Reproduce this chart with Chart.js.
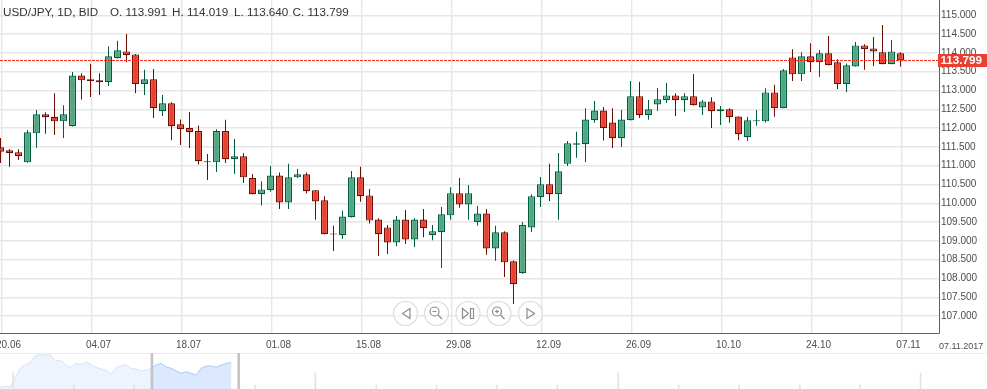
<!DOCTYPE html>
<html>
<head>
<meta charset="utf-8">
<title>USD/JPY</title>
<script src="https://cdn.jsdelivr.net/npm/chart.js@4/dist/chart.umd.js"></script>
<style>
    html, body { margin: 0; padding: 0; background: #fff; overflow: hidden; }
    #page { position: relative; width: 987px; height: 389px; font-family: "Liberation Sans", Arial, sans-serif; }
    canvas { position: absolute; left: 0; display: block; }
    #header { position: absolute; left: 0; top: 4px; height: 16px; font-size: 11.7px; line-height: 16px; color: #333; white-space: nowrap; }
    #header span { position: absolute; top: 0; }
    #dateNow { position: absolute; left: 939px; top: 340px; font-size: 9px; line-height: 12px; color: #4d4d4d; }
    #navLine { position: absolute; left: 0; top: 353px; width: 987px; height: 1px; background: #ececec; }
    #buttons { position: absolute; left: 0; top: 0; }
</style>
</head>
<body>
<div id="page">
    <canvas id="priceChart" width="987" height="389" style="top:0"></canvas>
    <div id="navLine"></div>
    <canvas id="navChart" width="987" height="36" style="top:353px"></canvas>
    <div id="header">
        <span style="left:3px">USD/JPY, 1D, BID</span>
        <span style="left:110px">O. 113.991</span>
        <span style="left:172px">H. 114.019</span>
        <span style="left:234px">L. 113.640</span>
        <span style="left:292.5px">C. 113.799</span>
    </div>
    <div id="dateNow">07.11.2017</div>
    <svg id="buttons" width="987" height="389" fill="none" stroke="#8c8c8c" stroke-width="1.2">
        <g stroke="#dcdcdc" fill="rgba(255,255,255,0.55)">
            <circle cx="405.5" cy="313.5" r="12"/><circle cx="436.5" cy="313.5" r="12"/>
            <circle cx="468" cy="313.5" r="12"/><circle cx="499" cy="313.5" r="12"/><circle cx="530.5" cy="313.5" r="12"/>
        </g>
        <path d="M410 308.5v10l-7.500-5z"/>
        <circle cx="434.500" cy="311.500" r="4.500"/><path d="M432.500 311.500h4M438 315l4 4"/>
        <path d="M462.500 308.500v10l6-5zM470.500 308.500h3v10h-3z"/>
        <circle cx="497" cy="311.500" r="4.500"/><path d="M495 311.500h4M497 309.500v4M500.500 315l4 4"/>
        <path d="M527 308.500v10l7.500-5z"/>
    </svg>
</div>

<script>
    const opens = [
        111.49, 111.41, 111.36, 111.09, 111.86, 112.37, 112.30, 112.18, 112.05, 113.40,
        113.30, 113.27, 113.22, 113.86, 114.04, 113.96, 113.17, 113.30, 112.45, 112.66,
        112.10, 112.00, 111.92, 111.12, 111.09, 111.92, 111.17, 111.25, 110.67, 110.24,
        110.35, 110.74, 110.02, 110.69, 110.77, 110.35, 110.08, 109.20, 109.15, 109.63,
        110.69, 110.21, 109.57, 109.36, 108.96, 109.57, 109.04, 109.57, 109.15, 109.23,
        109.68, 110.27, 109.97, 109.50, 109.73, 108.80, 109.23, 108.46, 108.14, 109.36,
        110.16, 110.51, 110.24, 111.05, 111.56, 111.57, 112.21, 112.47, 112.15, 111.73,
        112.21, 112.85, 112.34, 112.63, 112.74, 112.87, 112.74, 112.85, 112.55, 112.71,
        112.45, 112.50, 112.31, 111.76, 112.18, 112.18, 112.95, 112.53, 113.88, 113.43,
        113.91, 113.75, 113.99, 113.75, 113.17, 113.64, 114.20, 114.12, 114.02, 113.70,
        113.991
    ];
    const highs = [
        111.74, 111.44, 111.44, 111.95, 112.48, 112.42, 112.93, 112.61, 113.49, 113.46,
        113.71, 113.46, 114.18, 114.32, 114.50, 113.97, 113.55, 113.57, 112.88, 112.69,
        112.23, 112.43, 112.07, 111.31, 111.97, 112.22, 111.71, 111.33, 110.78, 110.59,
        110.99, 110.82, 111.05, 110.91, 110.82, 110.35, 110.19, 109.40, 109.80, 110.86,
        110.97, 110.38, 109.60, 109.42, 109.66, 109.82, 109.60, 109.85, 109.42, 109.90,
        110.43, 110.67, 110.49, 109.93, 109.85, 109.40, 109.26, 108.48, 109.50, 110.24,
        110.70, 111.05, 111.34, 111.66, 111.90, 112.53, 112.72, 112.56, 112.53, 112.48,
        113.25, 113.23, 112.75, 113.07, 113.20, 112.93, 112.93, 113.44, 112.75, 112.82,
        112.59, 112.53, 112.31, 112.30, 112.48, 113.06, 113.15, 113.57, 114.10, 114.02,
        114.26, 114.08, 114.45, 113.83, 113.72, 114.29, 114.23, 114.42, 114.74, 114.34,
        114.019
    ];
    const lows = [
        111.07, 110.97, 111.15, 111.08, 111.48, 111.85, 111.82, 111.74, 112.04, 112.76,
        112.83, 112.88, 113.12, 113.85, 113.75, 112.93, 112.88, 112.27, 112.32, 111.68,
        111.55, 111.47, 111.03, 110.62, 110.83, 111.07, 110.78, 110.54, 110.24, 109.94,
        110.31, 109.85, 109.85, 110.67, 110.26, 109.56, 109.18, 108.73, 109.05, 109.62,
        110.04, 109.46, 108.60, 108.65, 108.86, 108.92, 108.84, 109.10, 109.02, 108.28,
        109.56, 109.88, 109.56, 109.40, 108.63, 108.47, 108.04, 107.32, 108.13, 109.24,
        109.90, 110.06, 109.56, 110.99, 111.21, 111.10, 112.14, 111.67, 111.47, 111.50,
        112.20, 112.27, 112.22, 112.46, 112.67, 112.32, 112.43, 112.60, 112.35, 112.00,
        112.08, 112.14, 111.68, 111.66, 112.06, 112.15, 112.30, 112.53, 113.25, 113.25,
        113.49, 113.36, 113.67, 113.04, 112.96, 113.64, 113.55, 113.65, 113.70, 113.70,
        113.640
    ];
    const closes = [
        111.37, 111.33, 111.25, 111.89, 112.37, 112.29, 112.18, 112.37, 113.40, 113.27,
        113.25, 113.22, 113.91, 114.07, 113.94, 113.17, 113.30, 112.53, 112.66, 112.05,
        111.97, 111.89, 111.12, 111.09, 111.92, 111.17, 111.25, 110.69, 110.24, 110.37,
        110.74, 110.02, 110.69, 110.77, 110.32, 110.05, 109.18, 109.17, 109.65, 110.69,
        110.19, 109.54, 109.18, 108.96, 109.57, 109.04, 109.57, 109.34, 109.26, 109.71,
        110.27, 109.97, 110.27, 109.73, 108.80, 109.23, 108.43, 107.85, 109.42, 110.19,
        110.51, 110.24, 110.85, 111.60, 111.60, 112.23, 112.47, 112.00, 111.73, 112.23,
        112.85, 112.34, 112.50, 112.77, 112.87, 112.74, 112.85, 112.61, 112.71, 112.45,
        112.50, 112.29, 111.84, 112.21, 112.21, 112.95, 112.53, 113.54, 113.43, 113.91,
        113.75, 113.99, 113.67, 113.17, 113.67, 114.20, 114.10, 114.04, 113.70, 114.04,
        113.799
    ];

    const dateLabels = ['20.06', '04.07', '18.07', '01.08', '15.08', '29.08', '12.09', '26.09', '10.10', '24.10', '07.11'];
    const dateTicks = [0.11, 10.11, 20.11, 30.11, 40.11, 50.11, 60.11, 70.11, 80.11, 90.11, 100.11];
    const priceTicks = [107, 107.5, 108, 108.5, 109, 109.5, 110, 110.5, 111, 111.5, 112, 112.5, 113, 113.5, 114, 114.5, 115];
    const lastClose = 113.799;

    // navigator strip at the bottom, evenly spaced samples
    const navValues = [
        1.3, 3, 2, 10.7, 20.7, 24.3, 26.3, 33.3, 34.3, 34, 34, 28.3, 29, 24.7, 21.7, 25.7,
        24.7, 26.7, 25, 21.7, 20.3, 18.7, 15, 20.7, 23.3, 24.7, 20.7, 20, 18, 18.7, 20.7,
        24, 25.7, 22.3, 20.7, 18.3, 15.7, 17.3, 15.7, 14, 20.7, 23, 23, 21.7, 24, 25.7, 26.3
    ];
    const navSelectedFrom = 30;
    const navHandles = [30.2, 47.45];
    const navTicks = [2.64, 14.67, 26.7, 38.7, 50.7, 62.7, 74.8, 86.8, 98.8, 110.8, 122.9, 134.9, 146.9, 159, 171, 183];
    const navTickHeights = [16, 4, 4, 4, 4, 16, 4, 4, 4, 4, 16, 4, 4, 4, 4, 16];

    const upFill = '#4fa67f', upLine = '#005c3e';
    const downFill = '#e8412f', downLine = '#6b0e06';
    const labelFont = { family: '"Liberation Sans", Arial, sans-serif', size: 10 };

    const isUp = closes.map((c, i) => c >= opens[i]);
    const lineColors = isUp.map(up => up ? upLine : downLine);
    const fillColors = isUp.map(up => up ? upFill : downFill);

    const priceTag = {
        id: 'priceTag',
        afterDraw(chart) {
            const y = chart.scales.y.getPixelForValue(lastClose);
            const ctx = chart.ctx;
            ctx.save();
            ctx.fillStyle = downFill;
            ctx.fillRect(938, Math.round(y) - 6, 49, 13);
            ctx.fillStyle = '#fff';
            ctx.font = 'bold 11.7px "Liberation Sans", Arial, sans-serif';
            ctx.textBaseline = 'middle';
            ctx.fillText(lastClose.toFixed(3), 940.5, Math.round(y) + 0.5);
            ctx.restore();
        }
    };

    new Chart(document.getElementById('priceChart').getContext('2d'), {
        type: 'bar',
        data: {
            datasets: [
                {
                    type: 'line',
                    data: [{ x: -0.056, y: lastClose }, { x: 104.278, y: lastClose }],
                    borderColor: '#f02a1a',
                    borderWidth: 1,
                    borderDash: [3, 1],
                    pointRadius: 0
                },
                {
                    data: opens.map((o, i) => ({ x: i, y: [o, closes[i]] })),
                    backgroundColor: fillColors,
                    borderColor: lineColors,
                    borderWidth: 1.2,
                    borderSkipped: false,
                    inflateAmount: 0,
                    barThickness: 7,
                    grouped: false
                },
                {
                    data: highs.map((h, i) => ({ x: i, y: [lows[i], h] })),
                    backgroundColor: lineColors,
                    borderWidth: 0,
                    inflateAmount: 0,
                    barThickness: 1,
                    grouped: false
                }
            ]
        },
        options: {
            responsive: false,
            animation: false,
            events: [],
            layout: { padding: 0 },
            plugins: { legend: { display: false }, tooltip: { enabled: false } },
            scales: {
                x: {
                    type: 'linear',
                    offset: false,
                    min: -0.056,
                    max: 104.278,
                    afterBuildTicks: axis => { axis.ticks = dateTicks.map(value => ({ value })); },
                    afterFit: axis => { axis.height = 56; axis.paddingLeft = 0; axis.paddingRight = 0; },
                    grid: { offset: false, color: '#e6e6e6', lineWidth: 1.4, drawTicks: false },
                    border: { color: '#5f5f5f', width: 1 },
                    ticks: {
                        autoSkip: false,
                        maxRotation: 0,
                        labelOffset: 7,
                        padding: 6,
                        color: '#4d4d4d',
                        font: labelFont,
                        callback: value => dateLabels[dateTicks.indexOf(value)]
                    }
                },
                y: {
                    position: 'right',
                    min: 106.551,
                    max: 115.407,
                    afterBuildTicks: axis => { axis.ticks = priceTicks.map(value => ({ value })); },
                    afterFit: axis => { axis.width = 48; axis.paddingTop = 0; axis.paddingBottom = 0; },
                    grid: { color: '#e6e6e6', lineWidth: 1.4, drawTicks: false },
                    border: { color: '#5f5f5f', width: 1 },
                    ticks: {
                        crossAlign: 'near',
                        padding: 2,
                        color: '#4d4d4d',
                        font: labelFont,
                        callback: value => value.toFixed(3)
                    }
                }
            }
        },
        plugins: [priceTag]
    });

    new Chart(document.getElementById('navChart').getContext('2d'), {
        type: 'bar',
        data: {
            datasets: [
                {
                    data: navHandles.map(x => ({ x, y: [0, 36] })),
                    backgroundColor: '#c4c4c4',
                    borderWidth: 0,
                    barThickness: 2,
                    grouped: false
                },
                {
                    data: navTicks.map((x, i) => ({ x, y: navTickHeights[i] })),
                    backgroundColor: '#e2e2e2',
                    borderWidth: 0,
                    barThickness: 1,
                    grouped: false
                },
                {
                    type: 'line',
                    data: navValues.map((y, x) => ({ x, y })).slice(navSelectedFrom),
                    borderColor: '#a9c8f8',
                    backgroundColor: '#dbe8fd',
                    borderWidth: 1,
                    fill: 'start',
                    pointRadius: 0
                },
                {
                    type: 'line',
                    data: navValues.map((y, x) => ({ x, y })).slice(0, navSelectedFrom + 1),
                    borderColor: '#d3e3fb',
                    backgroundColor: '#edf4fe',
                    borderWidth: 1,
                    fill: 'start',
                    pointRadius: 0
                }
            ]
        },
        options: {
            responsive: false,
            animation: false,
            events: [],
            plugins: { legend: { display: false }, tooltip: { enabled: false } },
            scales: {
                x: { type: 'linear', offset: false, grid: { offset: false }, display: false, min: 0, max: 196.2 },
                y: { display: false, min: 0, max: 36 }
            }
        }
    });
</script>
</body>
</html>
